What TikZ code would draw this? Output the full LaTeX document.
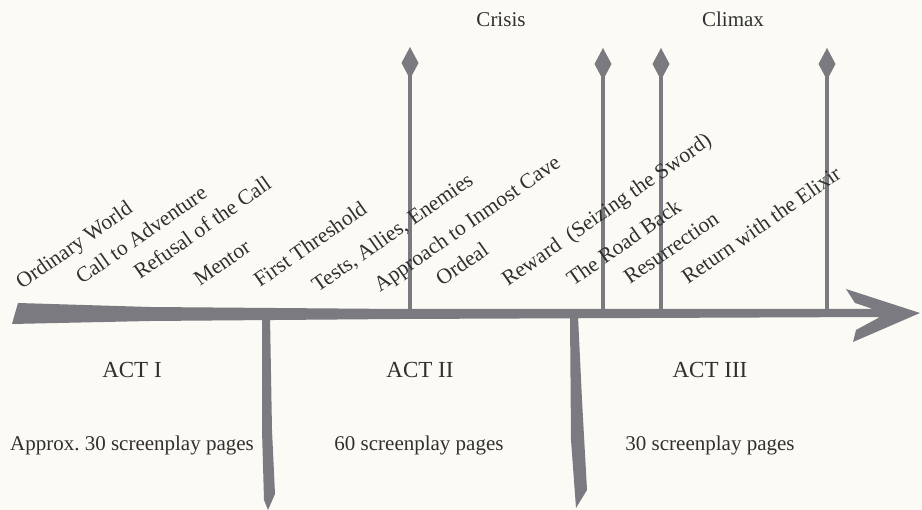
\documentclass[tikz,border=0pt]{standalone}
\usepackage{fontspec}
\setmainfont{Liberation Serif}
\usepackage{tikz}
\usetikzlibrary{arrows.meta}
\definecolor{paper}{RGB}{251,250,244}
\definecolor{inkgray}{RGB}{122,122,128}
\definecolor{textgray}{RGB}{48,48,48}
\tikzset{
    stage/.style={text=textgray, font=\fontsize{21.5}{25}\selectfont, rotate=35, anchor=base west, inner sep=0pt},
    act/.style={text=textgray, font=\fontsize{23}{27}\selectfont, anchor=base, inner sep=0pt},
    pages/.style={text=textgray, font=\fontsize{21}{25}\selectfont, anchor=base, inner sep=0pt},
    peak/.style={text=textgray, font=\fontsize{21}{25}\selectfont, anchor=base, inner sep=0pt},
    spear/.style={draw=inkgray, line width=4.5pt, -{Kite[length=32pt,width=17pt,inset=16pt]}}}

\begin{document}
\begin{tikzpicture}[x=1pt, y=-1pt]

    \fill[paper] (0,0) rectangle (922,510);
    \useasboundingbox (0,0) rectangle (922,510);

    \fill[inkgray] (18,303) -- (150,307) -- (400,309) -- (873,309) -- (855,303) -- (846,289)
        -- (920,313) -- (853,342) -- (856,330) -- (880,317) -- (400,319) -- (150,321) -- (12,324) -- cycle;

    \fill[inkgray] (262,316) -- (262,430) -- (264,500) -- (268,510) -- (275,494) -- (272,430) -- (270,316) -- cycle;
    \fill[inkgray] (570,316) -- (571,440) -- (576,508) -- (587,490) -- (582,400) -- (578,316) -- cycle;

    \coordinate (crisisbase) at (410,310);
    \coordinate (crisistip) at (410,47);
    \coordinate (rewardbase) at (603,310);
    \coordinate (rewardtip) at (603,48);
    \coordinate (roadbase) at (661,310);
    \coordinate (roadtip) at (661,48);
    \coordinate (climaxbase) at (827,310);
    \coordinate (climaxtip) at (827,48);

    \draw[spear] (crisisbase) -- (crisistip);
    \draw[spear] (rewardbase) -- (rewardtip);
    \draw[spear] (roadbase) -- (roadtip);
    \draw[spear] (climaxbase) -- (climaxtip);

    \node[peak] (crisis) at (501,27) {Crisis};
    \node[peak] (climax) at (733,27) {Climax};

    \node[stage] (ordinary) at (22,290) {Ordinary World};
    \node[stage] (call) at (82,285) {Call to Adventure};
    \node[stage] (refusal) at (140,280) {Refusal of the Call};
    \node[stage] (mentor) at (200,287) {Mentor};
    \node[stage] (threshold) at (260,288) {First Threshold};
    \node[stage] (tests) at (318,293) {Tests, Allies, Enemies};
    \node[stage] (approach) at (380,293) {Approach to Inmost Cave};
    \node[stage] (ordeal) at (442,287) {Ordeal};
    \node[stage] (reward) at (508,287) {Reward\ \ (Seizing the Sword)};
    \node[stage] (roadback) at (573,287) {The Road Back};
    \node[stage] (resurrection) at (630,285) {Resurrection};
    \node[stage] (elixir) at (688,285) {Return with the Elixir};

    \node[act] (actone) at (132,378) {ACT I};
    \node[act] (acttwo) at (420,378) {ACT II};
    \node[act] (actthree) at (710,378) {ACT III};

    \node[pages] (pagesone) at (132,451) {Approx.\ 30 screenplay pages};
    \node[pages] (pagestwo) at (419,451) {60 screenplay pages};
    \node[pages] (pagesthree) at (710,451) {30 screenplay pages};

\end{tikzpicture}
\end{document}
